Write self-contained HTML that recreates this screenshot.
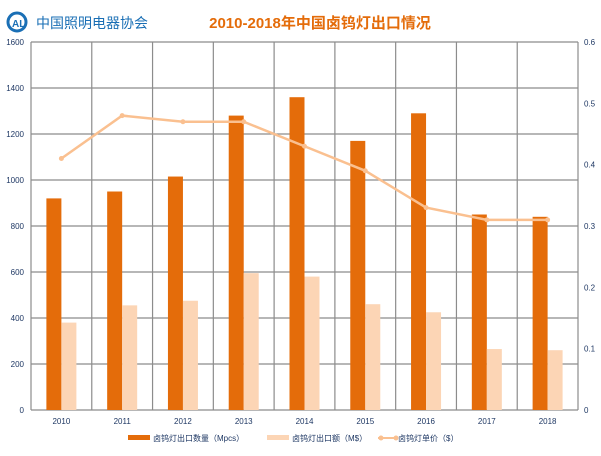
<!DOCTYPE html>
<html><head><meta charset="utf-8"><style>
body{margin:0;background:#fff;width:601px;height:451px;overflow:hidden}
svg text{font-family:"Liberation Sans","Noto Sans CJK SC",sans-serif}
</style></head><body>
<svg width="601" height="451" viewBox="0 0 601 451" xmlns="http://www.w3.org/2000/svg">
<circle cx="17" cy="22" r="9" fill="none" stroke="#1a6fb5" stroke-width="3"/>
<text x="12" y="27" font-size="10" font-weight="bold" fill="#1a6fb5">AL</text>
<text x="36" y="28" font-size="14" fill="#1a6fb5" font-family="Noto Serif CJK SC,serif">中国照明电器协会</text>
<text x="320" y="28" font-size="15" font-weight="bold" fill="#E46C0A" text-anchor="middle">2010-2018年中国卤钨灯出口情况</text>
<g id="grid" stroke="#8c8c8c" stroke-width="1.2"></g>
<g id="bars"></g>
<g id="labels" font-size="8" fill="#1F3864"></g>
<g font-size="8" fill="#1F3864">
<rect x="128" y="435" width="22" height="5" fill="#E46C0A"/><text x="153" y="441">卤钨灯出口数量（Mpcs）</text>
<rect x="267" y="435" width="22" height="5" fill="#FCD5B5"/><text x="292" y="441">卤钨灯出口额（M$）</text>
<line x1="378" y1="438" x2="398" y2="438" stroke="#FAC090" stroke-width="2"/><circle cx="381" cy="438" r="2.5" fill="#FAC090"/><circle cx="396" cy="438" r="2.5" fill="#FAC090"/><text x="398" y="441">卤钨灯单价（$）</text>
</g>
</svg>
<script>
const L=31,R=578,T=42,B=410,W=(R-L)/9,ns="http://www.w3.org/2000/svg";
function el(p,t,a,txt){const e=document.createElementNS(ns,t);for(const k in a)e.setAttribute(k,a[k]);if(txt!==undefined)e.textContent=txt;document.getElementById(p).appendChild(e);return e}
for(let i=0;i<=8;i++){const y=B-i*46;el('grid','line',{x1:L,x2:R,y1:y,y2:y});el('labels','text',{x:24,y:y+3,'text-anchor':'end'},String(i*200));}
for(let i=0;i<=6;i++){el('labels','text',{x:584,y:B-i*(368/6)+3},i==0?'0':(i/10).toString());}
for(let i=0;i<=9;i++){const x=L+i*W;el('grid','line',{x1:x,x2:x,y1:T,y2:B});}
const a=[920,950,1015,1280,1360,1170,1290,850,840],b=[380,455,475,595,580,460,425,265,260],p=[0.41,0.48,0.47,0.47,0.43,0.39,0.33,0.31,0.31],yrs=[2010,2011,2012,2013,2014,2015,2016,2017,2018];
let pts=[];
for(let i=0;i<9;i++){const c=L+W*(i+0.5);
el('bars','rect',{x:c-15,y:B-a[i]*0.23,width:15,height:a[i]*0.23,fill:'#E46C0A'});
el('bars','rect',{x:c,y:B-b[i]*0.23,width:15,height:b[i]*0.23,fill:'#FCD5B5'});
el('labels','text',{x:c,y:424,'text-anchor':'middle'},String(yrs[i]));
pts.push([c,B-p[i]/0.6*368]);}
el('bars','polyline',{points:pts.map(q=>q.join(',')).join(' '),fill:'none',stroke:'#FAC090','stroke-width':2.5});
pts.forEach(q=>el('bars','circle',{cx:q[0],cy:q[1],r:2.5,fill:'#FAC090'}));
</script>
</body></html>
